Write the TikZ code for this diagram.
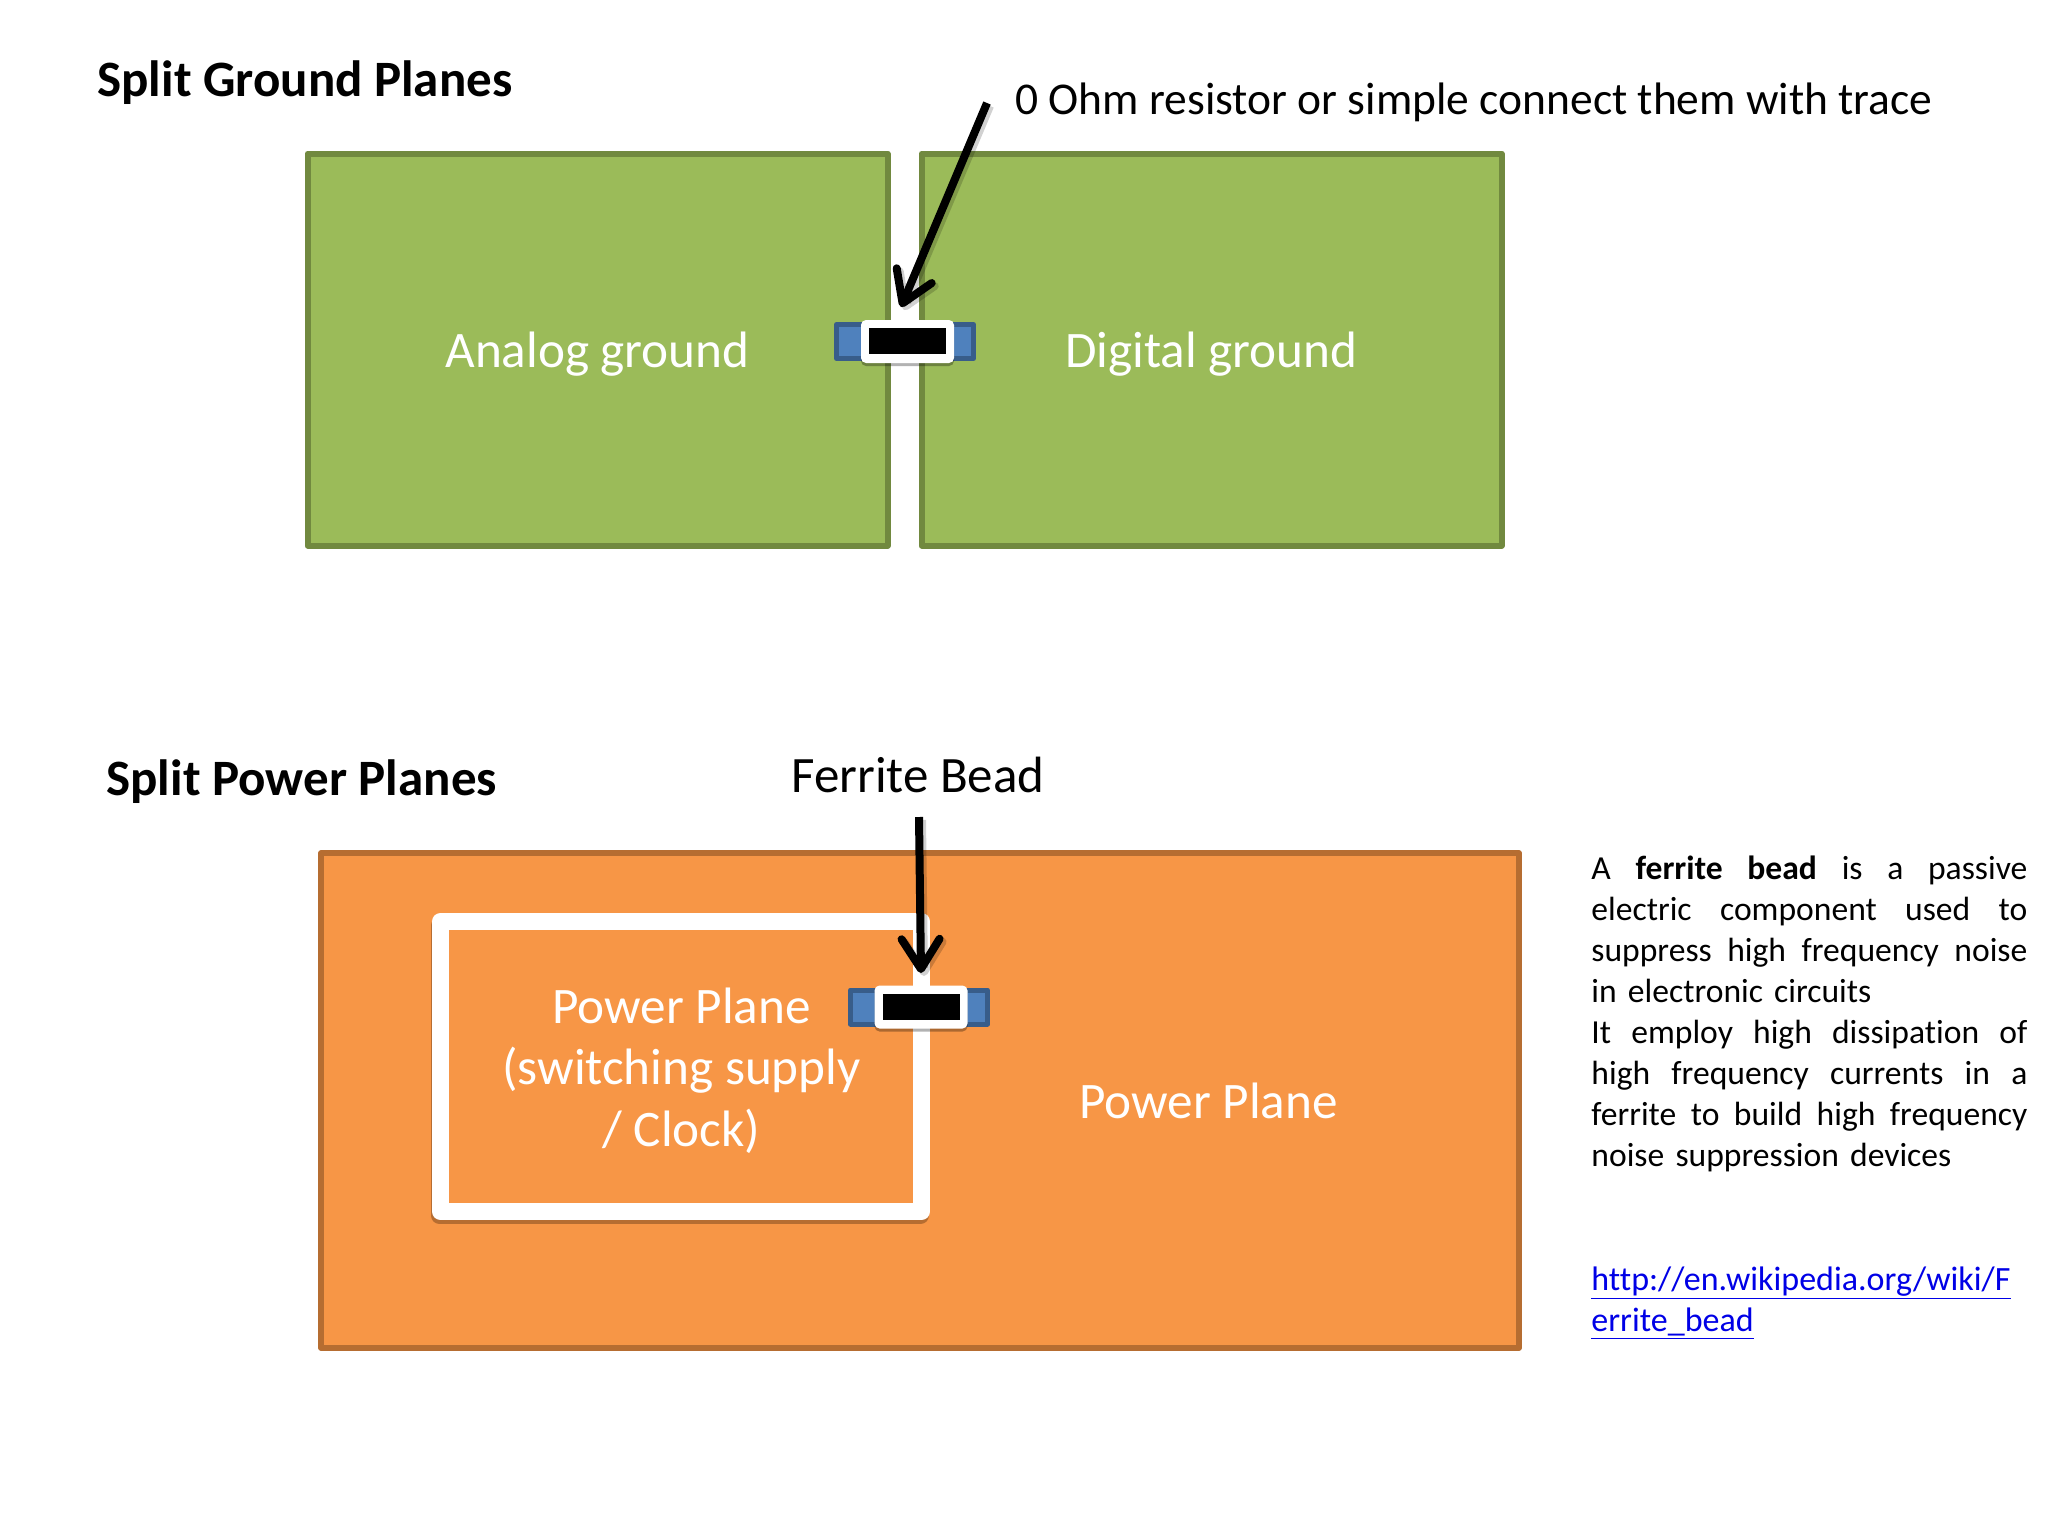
\documentclass[tikz,border=0pt]{standalone}
\usepackage{fontspec}
\setmainfont{Carlito}[Ligatures=NoCommon]
\usetikzlibrary{arrows.meta,shadows}
\definecolor{gfill}{HTML}{9BBB59}
\definecolor{gline}{HTML}{71893F}
\definecolor{ofill}{HTML}{F79646}
\definecolor{oline}{HTML}{B66D31}
\definecolor{bfill}{HTML}{4F81BD}
\definecolor{bline}{HTML}{385D8A}
\definecolor{linkc}{HTML}{0000E6}
\newcommand{\jline}[1]{\makebox[218pt][s]{\spaceskip=0pt\xspaceskip=0pt\relax #1}\\}
\tikzset{
  x=0.5pt,y=-0.5pt,
  plane/.style={draw=#1,line width=3pt,line join=round,inner sep=0pt,outer sep=0pt},
  planelabel/.style={inner sep=0pt,text=white,font=\fontsize{25.6}{30.7}\selectfont,align=center},
  title/.style={inner sep=0pt,anchor=base west,font=\fontsize{25.5}{30}\bfseries\selectfont},
  label/.style={inner sep=0pt,anchor=base west,font=\fontsize{#1}{30}\selectfont},
  caps/.style={fill=bfill,draw=bline,line width=2.5pt,line join=round,inner sep=0pt,minimum width=68.5pt,minimum height=17pt},
  body/.style={fill=white,rounded corners=2.5pt,inner sep=0pt,minimum width=46.5pt,minimum height=21.5pt,
    drop shadow={shadow xshift=0pt,shadow yshift=-1.5pt,opacity=.3,fill=black}},
  core/.style={fill=black,inner sep=0pt,minimum width=38.5pt,minimum height=13pt},
  pointer/.style={line width=4pt,draw=black,line cap=butt,-{Straight Barb[round,length=15pt,width=19pt,line width=4pt]}},
  pointershade/.style={line width=4pt,draw=black,opacity=.18,-{Straight Barb[round,length=15pt,width=19pt,line width=4pt]},transform canvas={xshift=1.5pt,yshift=-1.5pt}},
  para/.style={inner sep=0pt,anchor=north west,text width=218pt,align=left,font=\fontsize{16.8}{20.5}\selectfont},
}
\begin{document}
\begin{tikzpicture}
\useasboundingbox (0,0) rectangle (2048,1536);
% titles
\node[title] (t1) at (97,96.5) {Split Ground Planes};
\node[title] (t2) at (106,795.5) {Split Power Planes};
\node[label=22.75] (l1) at (1015,114) {0 Ohm resistor or simple connect them with trace};
\node[label=25.5] (l2) at (791,792) {Ferrite Bead};
% ground planes
\node[plane=gline,fill=gfill,minimum width=290pt,minimum height=196pt] (ag) at (597.5,349.5) {};
\node[plane=gline,fill=gfill,minimum width=290pt,minimum height=196pt] (dg) at (1211.5,349.5) {};
\node[planelabel] (agt) at (597.5,354.5) {Analog ground};
\node[planelabel] (dgt) at (1211.5,354.5) {Digital ground};
\node[caps] (r1c) at (905,341.5) {};
\node[body] (r1b) at (907.5,341.5) {};
\node[core] (r1k) at (907.5,341) {};
\coordinate (a1s) at (987,103);
\coordinate (a1e) at (901,307);
\draw[pointershade] (a1s) -- (a1e);
\draw[pointer] (a1s) -- (a1e);
% power planes
\node[plane=oline,fill=ofill,minimum width=598.75pt,minimum height=247.25pt] (pp) at (920,1100.5) {};
\node[planelabel] (ppt) at (1208.5,1100.5) {Power Plane};
\node[draw=white,line width=8.5pt,line join=round,fill=ofill,inner sep=0pt,outer sep=0pt,minimum width=240.5pt,minimum height=145pt,
  drop shadow={shadow xshift=-0.5pt,shadow yshift=-2pt,draw=oline,line width=8.5pt,opacity=1,fill=oline}] (sw) at (681,1066.5) {};
\node[planelabel] (swt) at (681.5,1070.5) {Power Plane\\(switching supply\\/ Clock)};
\node[caps] (r2c) at (919,1007) {};
\node[body] (r2b) at (921,1007) {};
\node[core] (r2k) at (921.5,1007) {};
\coordinate (a2s) at (919,817);
\coordinate (a2e) at (921,973);
\draw[pointershade] (a2s) -- (a2e);
\draw[pointer] (a2s) -- (a2e);
% side text
\node[para] (txt) at (1591,856) {\jline{A \textbf{ferrite bead} is a passive}\jline{electric component used to}\jline{suppress high frequency noise}in electronic circuits\\
\jline{It employ high dissipation of}\jline{high frequency currents in a}\jline{ferrite to build high frequency}noise suppression devices};
\node[para,text=linkc,font=\fontsize{17}{20.5}\selectfont] (lnk) at (1591,1266) {\underline{http://en.wikipedia.org/wiki/F}\\\underline{errite\_bead}};
\end{tikzpicture}
\end{document}
